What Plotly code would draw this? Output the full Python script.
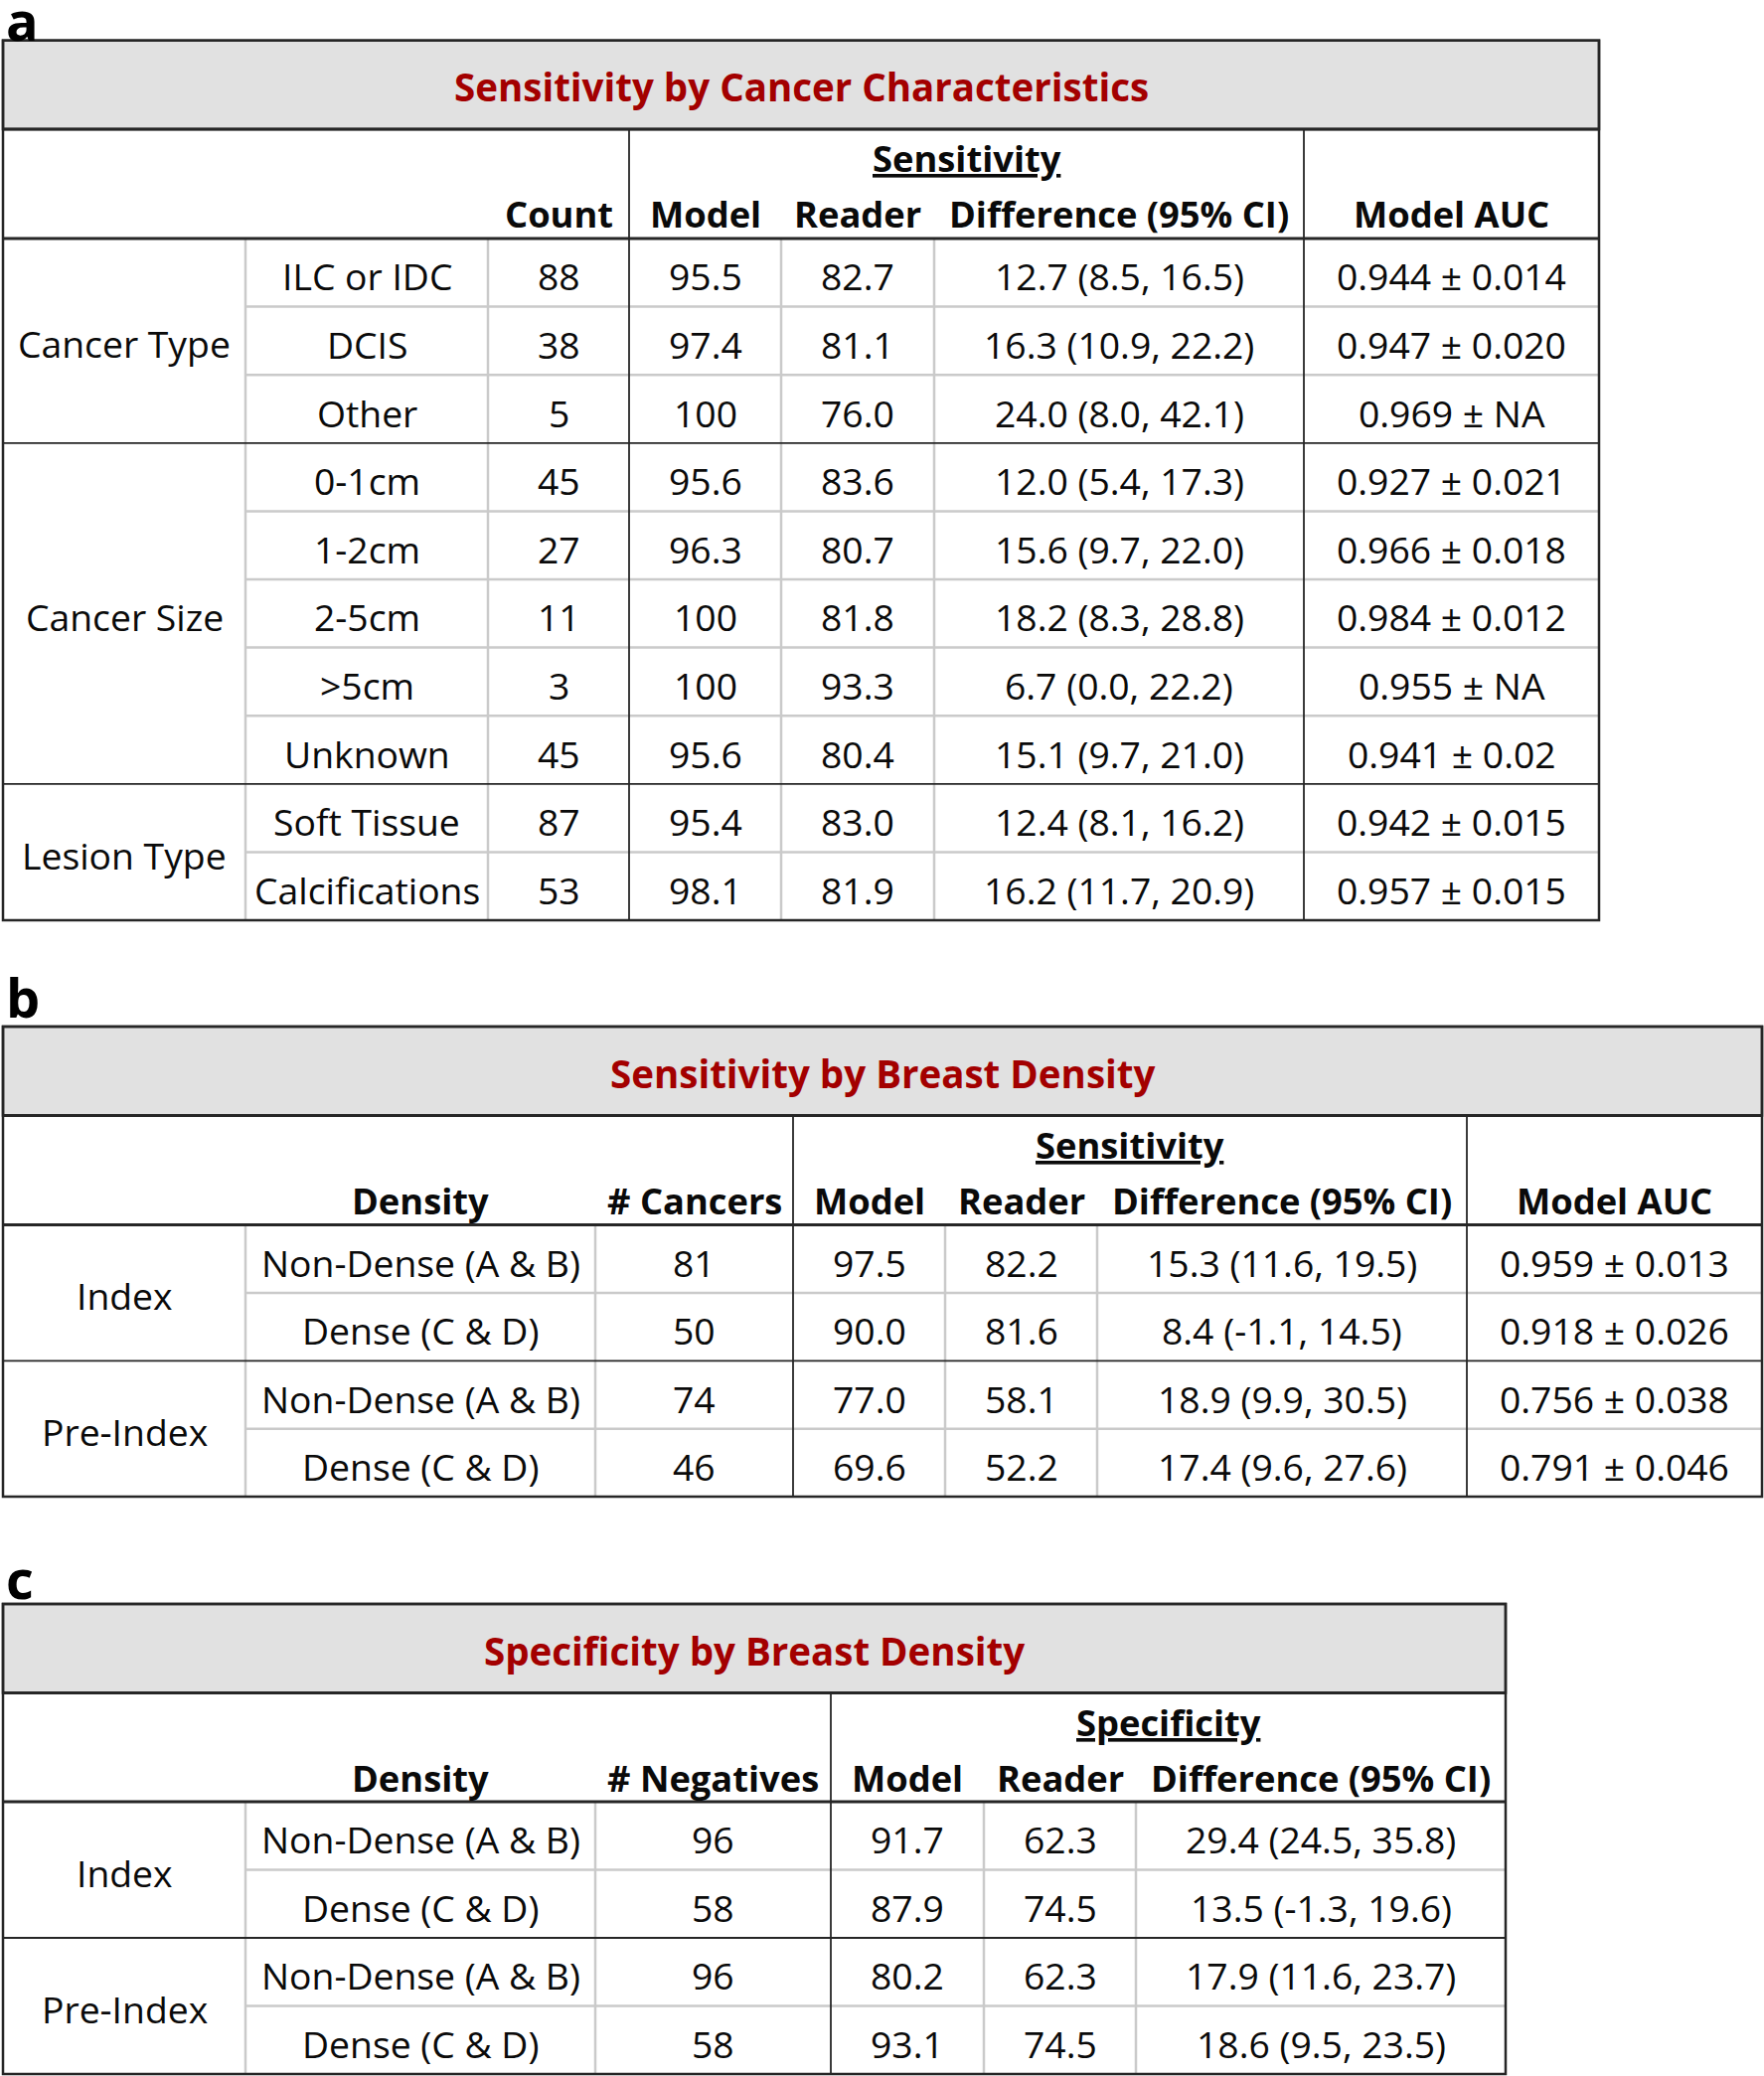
import plotly.graph_objects as go

# ---------------- data: panel a ----------------
a_title = "Sensitivity by Cancer Characteristics"
a_groups = ["Cancer Type", "Cancer Size", "Lesion Type"]
a_group_sizes = [3, 5, 2]
a_sub = ["ILC or IDC", "DCIS", "Other", "0-1cm", "1-2cm", "2-5cm", ">5cm", "Unknown",
         "Soft Tissue", "Calcifications"]
a_count = ["88", "38", "5", "45", "27", "11", "3", "45", "87", "53"]
a_model = ["95.5", "97.4", "100", "95.6", "96.3", "100", "100", "95.6", "95.4", "98.1"]
a_reader = ["82.7", "81.1", "76.0", "83.6", "80.7", "81.8", "93.3", "80.4", "83.0", "81.9"]
a_diff = ["12.7 (8.5, 16.5)", "16.3 (10.9, 22.2)", "24.0 (8.0, 42.1)", "12.0 (5.4, 17.3)",
          "15.6 (9.7, 22.0)", "18.2 (8.3, 28.8)", "6.7 (0.0, 22.2)", "15.1 (9.7, 21.0)",
          "12.4 (8.1, 16.2)", "16.2 (11.7, 20.9)"]
a_auc = ["0.944 ± 0.014", "0.947 ± 0.020", "0.969 ± NA", "0.927 ± 0.021", "0.966 ± 0.018",
         "0.984 ± 0.012", "0.955 ± NA", "0.941 ± 0.02", "0.942 ± 0.015", "0.957 ± 0.015"]
a_heads = ["", "", "Count", "Model", "Reader", "Difference (95% CI)", "Model AUC"]

# ---------------- data: panel b ----------------
b_title = "Sensitivity by Breast Density"
b_groups = ["Index", "Pre-Index"]
b_group_sizes = [2, 2]
b_density = ["Non-Dense (A & B)", "Dense (C & D)", "Non-Dense (A & B)", "Dense (C & D)"]
b_cancers = ["81", "50", "74", "46"]
b_model = ["97.5", "90.0", "77.0", "69.6"]
b_reader = ["82.2", "81.6", "58.1", "52.2"]
b_diff = ["15.3 (11.6, 19.5)", "8.4 (-1.1, 14.5)", "18.9 (9.9, 30.5)", "17.4 (9.6, 27.6)"]
b_auc = ["0.959 ± 0.013", "0.918 ± 0.026", "0.756 ± 0.038", "0.791 ± 0.046"]
b_heads = ["", "Density", "# Cancers", "Model", "Reader", "Difference (95% CI)", "Model AUC"]

# ---------------- data: panel c ----------------
c_title = "Specificity by Breast Density"
c_groups = ["Index", "Pre-Index"]
c_group_sizes = [2, 2]
c_density = ["Non-Dense (A & B)", "Dense (C & D)", "Non-Dense (A & B)", "Dense (C & D)"]
c_negatives = ["96", "58", "96", "58"]
c_model = ["91.7", "87.9", "80.2", "93.1"]
c_reader = ["62.3", "74.5", "62.3", "74.5"]
c_diff = ["29.4 (24.5, 35.8)", "13.5 (-1.3, 19.6)", "17.9 (11.6, 23.7)", "18.6 (9.5, 23.5)"]
c_heads = ["", "Density", "# Negatives", "Model", "Reader", "Difference (95% CI)"]

# ---------------- styling ----------------
W, H = 1775, 2089
FONT = "Open Sans"
TXT = "#0a0a0a"
RED = "#a30000"
DARK = "#262626"
LIGHT = "#cacaca"
BAND = "#e1e1e1"
BODY_SIZE = 37.3
HEAD_SIZE = 36.3
TITLE_SIZE = 38.5

fig = go.Figure()
fig.add_trace(go.Scatter(x=[0, W], y=[0, H], mode="markers",
                         marker=dict(opacity=0), hoverinfo="skip", showlegend=False))


def txt(x, y, s, size=BODY_SIZE, color=TXT, xanchor="center"):
    fig.add_annotation(x=x, y=y, text=s, showarrow=False, xref="x", yref="y",
                       xanchor=xanchor, yanchor="middle",
                       font=dict(family=FONT, size=size, color=color))


def line(x0, y0, x1, y1, color, width):
    fig.add_shape(type="line", x0=x0, y0=y0, x1=x1, y1=y1, xref="x", yref="y",
                  line=dict(color=color, width=width), layer="above")


def draw_table(label, label_y, top, title_h, head_h, row_h, edges, dark_edges,
               title, span_label, span_cols, heads, groups, group_sizes, columns):
    x0, x1 = edges[0], edges[-1]
    t_bot = top + title_h
    h_bot = t_bot + head_h
    n = sum(group_sizes)
    bottom = h_bot + n * row_h
    # panel letter
    txt(x0 + 1, label_y, "<b>%s</b>" % label, size=54, color="#000000", xanchor="left")
    # title band
    fig.add_shape(type="rect", x0=x0, y0=top, x1=x1, y1=t_bot, xref="x", yref="y",
                  fillcolor=BAND, line=dict(color=DARK, width=2.5), layer="below")
    txt((x0 + x1) / 2, top + title_h / 2 + 2, "<b>%s</b>" % title, size=TITLE_SIZE, color=RED)
    # header
    sx = (edges[span_cols[0]] + edges[span_cols[1] + 1]) / 2
    txt(sx, t_bot + 29, "<b><u>%s</u></b>" % span_label, size=HEAD_SIZE)
    for i, h in enumerate(heads):
        if h:
            txt((edges[i] + edges[i + 1]) / 2, t_bot + 85, "<b>%s</b>" % h, size=HEAD_SIZE)
    # light row separators within groups
    r = 0
    for gs in group_sizes:
        for k in range(1, gs):
            yy = h_bot + (r + k) * row_h
            line(edges[1], yy, x1, yy, LIGHT, 2.5)
        r += gs
    # light verticals in body
    for j in range(1, len(edges) - 1):
        if j not in dark_edges:
            line(edges[j], h_bot, edges[j], bottom, LIGHT, 2.5)
    # dark verticals
    for j in dark_edges:
        line(edges[j], t_bot, edges[j], bottom, DARK, 1.8)
    # dark group separators
    r = 0
    for gs in group_sizes[:-1]:
        r += gs
        yy = h_bot + r * row_h
        line(x0, yy, x1, yy, DARK, 1.8)
    # header bottom and outer frame
    line(x0, h_bot, x1, h_bot, DARK, 2.8)
    line(x0, t_bot, x1, t_bot, DARK, 2.8)
    fig.add_shape(type="rect", x0=x0, y0=top, x1=x1, y1=bottom, xref="x", yref="y",
                  line=dict(color=DARK, width=2.5), layer="above")
    # group labels
    r = 0
    for g, gs in zip(groups, group_sizes):
        yc = h_bot + (r + gs / 2) * row_h
        txt((edges[0] + edges[1]) / 2, yc + 3, g)
        r += gs
    # body cells
    for ci, col in enumerate(columns):
        xc = (edges[ci + 1] + edges[ci + 2]) / 2
        for ri, v in enumerate(col):
            txt(xc, h_bot + (ri + 0.5) * row_h + 3.5, v)


draw_table("a", 20, 40.7, 89.3, 110, 68.6,
           [3, 247, 491, 633, 786, 940, 1312, 1609], [3, 6],
           a_title, "Sensitivity", (3, 5), a_heads, a_groups, a_group_sizes,
           [a_sub, a_count, a_model, a_reader, a_diff, a_auc])

draw_table("b", 1003, 1033, 89.5, 110, 68.4,
           [3, 247, 599, 798, 951, 1104, 1476, 1773], [3, 6],
           b_title, "Sensitivity", (3, 5), b_heads, b_groups, b_group_sizes,
           [b_density, b_cancers, b_model, b_reader, b_diff, b_auc])

draw_table("c", 1588, 1614, 89.5, 109.5, 68.5,
           [3, 247, 599, 836, 990, 1143, 1515], [3],
           c_title, "Specificity", (3, 5), c_heads, c_groups, c_group_sizes,
           [c_density, c_negatives, c_model, c_reader, c_diff])

fig.update_layout(width=W, height=H, margin=dict(l=0, r=0, t=0, b=0),
                  paper_bgcolor="white", plot_bgcolor="white", showlegend=False,
                  xaxis=dict(range=[0, W], visible=False, fixedrange=True),
                  yaxis=dict(range=[H, 0], visible=False, fixedrange=True))

fig.write_html("out.html", config={"displayModeBar": False},
               post_script="document.body.style.margin='0';")
